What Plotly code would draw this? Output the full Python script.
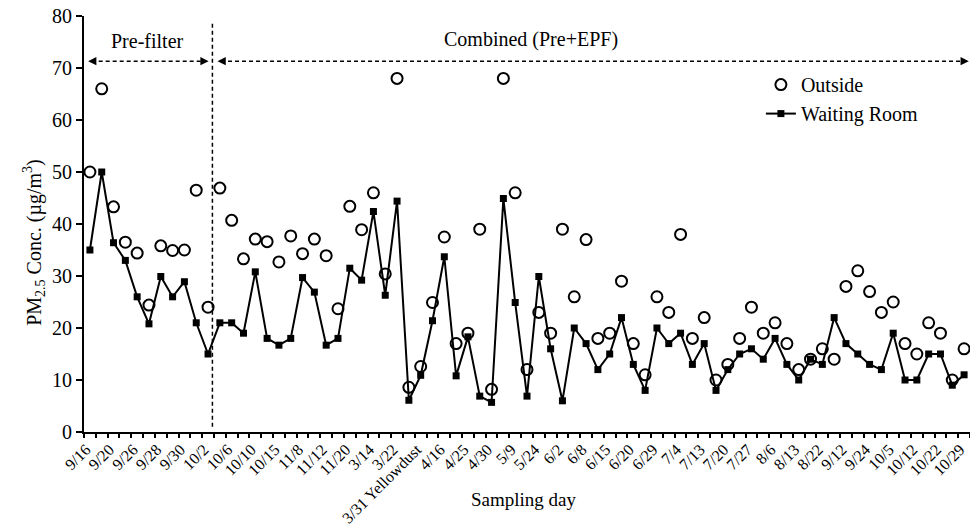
import plotly.graph_objects as go

# ---- data ----
tick_labels = ["9/16", "9/20", "9/26", "9/28", "9/30", "10/2", "10/6", "10/10", "10/15",
               "11/8", "11/12", "11/20", "3/14", "3/22", "3/31 Yellowdust", "4/16", "4/25",
               "4/30", "5/9", "5/24", "6/2", "6/8", "6/15", "6/20", "6/29", "7/4", "7/13",
               "7/20", "7/27", "8/6", "8/13", "8/22", "9/12", "9/24", "10/5", "10/12",
               "10/22", "10/29"]

outside = [50, 66, 43.3, 36.5, 34.4, 24.4, 35.8, 34.9, 35, 46.5,
           24, 46.9, 40.7, 33.3, 37.1, 36.6, 32.7, 37.7, 34.3, 37.1,
           33.9, 23.7, 43.4, 38.9, 46, 30.4, 68, 8.6, 12.6, 24.9,
           37.5, 17, 19, 39, 8.2, 68, 46, 12, 23, 19,
           39, 26, 37, 18, 19, 29, 17, 11, 26, 23,
           38, 18, 22, 10, 13, 18, 24, 19, 21, 17,
           12, 14, 16, 14, 28, 31, 27, 23, 25, 17,
           15, 21, 19, 10, 16]

waiting_room = [35, 50, 36.4, 33, 26, 20.8, 29.9, 26, 28.9, 21,
                15, 21, 21, 19, 30.8, 18, 16.7, 18, 29.7, 26.9,
                16.7, 18, 31.5, 29.2, 42.4, 26.3, 44.4, 6.1, 10.9, 21.4,
                33.7, 10.8, 18.3, 6.9, 5.7, 44.9, 24.9, 6.9, 29.9, 16,
                6, 20, 17, 12, 15, 22, 13, 8, 20, 17,
                19, 13, 17, 8, 12, 15, 16, 14, 18, 13,
                10, 14, 13, 22, 17, 15, 13, 12, 19, 10,
                10, 15, 15, 9, 11]

day_index = list(range(len(waiting_room)))
label_positions = day_index[::2]

FONT = "Liberation Serif"
split_x = 10.37
DASH = "4px,3px"

fig = go.Figure()

fig.add_trace(go.Scatter(
    x=day_index, y=outside, mode="markers", name="Outside",
    legendgroup="a",
    marker=dict(symbol="circle-open", size=11, color="black", line=dict(width=2, color="black")),
))
fig.add_trace(go.Scatter(
    x=day_index, y=waiting_room, mode="lines+markers", name="Waiting Room",
    legendgroup="b",
    line=dict(color="black", width=2),
    marker=dict(symbol="square", size=7, color="black"),
))

# separator line
fig.add_shape(type="line", x0=split_x, x1=split_x, y0=1, y1=79, xref="x", yref="y",
              line=dict(color="black", width=1.5, dash=DASH))

# period arrows (dashed lines + arrowheads)
arrow_y = 71.3
for x0, x1 in [(-0.15, 10.05), (10.8, 74.4)]:
    fig.add_shape(type="line", x0=x0 + 0.3, x1=x1 - 0.3, y0=arrow_y, y1=arrow_y,
                  xref="x", yref="y", line=dict(color="black", width=1.5, dash=DASH))
    fig.add_annotation(x=x0, y=arrow_y, ax=9, ay=0, xref="x", yref="y",
                       text="", showarrow=True, arrowhead=2, arrowsize=1.1,
                       arrowwidth=1.5, arrowcolor="black")
    fig.add_annotation(x=x1, y=arrow_y, ax=-9, ay=0, xref="x", yref="y",
                       text="", showarrow=True, arrowhead=2, arrowsize=1.1,
                       arrowwidth=1.5, arrowcolor="black")

fig.add_annotation(x=4.86, y=75.2, xref="x", yref="y", text="Pre-filter", showarrow=False,
                   font=dict(family=FONT, size=20, color="black"))
fig.add_annotation(x=37.3, y=75.5, xref="x", yref="y", text="Combined (Pre+EPF)", showarrow=False,
                   font=dict(family=FONT, size=20, color="black"))

# axis titles
fig.add_annotation(x=-0.0744, y=0.455, xref="paper", yref="paper",
                   text="PM<sub>2.5</sub> Conc. (µg/m<sup>3</sup>)", textangle=-90,
                   showarrow=False, font=dict(family=FONT, size=20, color="black"))
fig.add_annotation(x=0.497, y=-0.192, xref="paper", yref="paper", text="Sampling day",
                   showarrow=False, font=dict(family=FONT, size=19, color="black"))

fig.update_xaxes(
    range=[-0.5, 74.5], tickmode="array", tickvals=label_positions, ticktext=tick_labels,
    tickangle=-45, ticks="", showgrid=False, zeroline=False,
    showline=True, linecolor="black", linewidth=2,
    tickfont=dict(family=FONT, size=16, color="black"),
    ticklabelshift=-4,
    minor=dict(ticks="outside", tick0=-0.5, dtick=1, ticklen=4, tickwidth=2,
               tickcolor="black", showgrid=False),
    automargin=False,
)
fig.update_yaxes(
    range=[0, 80], tickmode="linear", tick0=0, dtick=10, ticks="outside", ticklen=6,
    tickwidth=2, tickcolor="black", showgrid=False, zeroline=False,
    showline=True, linecolor="black", linewidth=2,
    tickfont=dict(family=FONT, size=20, color="black"), automargin=False,
)

fig.update_layout(
    width=970, height=530,
    margin=dict(l=84, r=0, t=16, b=98),
    paper_bgcolor="white", plot_bgcolor="white",
    font=dict(family=FONT, color="black"),
    showlegend=True,
    legend=dict(x=0.764, y=0.882, xanchor="left", yanchor="top",
                bgcolor="rgba(0,0,0,0)", font=dict(family=FONT, size=20, color="black"),
                traceorder="grouped", tracegroupgap=0, itemwidth=30),
)

fig.write_html("out.html")
